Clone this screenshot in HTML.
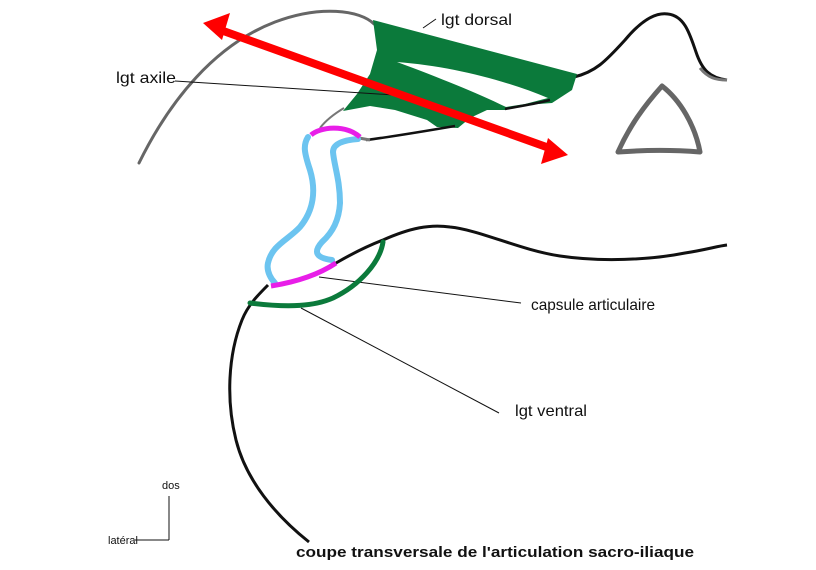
<!DOCTYPE html>
<html><head><meta charset="utf-8"><style>
html,body{margin:0;padding:0;background:#fff;}
svg{display:block;}
text{font-family:"Liberation Sans",Arial,sans-serif;fill:#111;}
</style></head><body>
<svg width="816" height="570" viewBox="0 0 816 570" xmlns="http://www.w3.org/2000/svg">
<rect width="816" height="570" fill="#fff"/>
<path d="M139,163 C170,100 215,45 275,22 C320,5 360,10 374,24" fill="none" stroke="#666" stroke-width="3" stroke-linecap="round"/>
<path d="M574,77 C595,72 605,62 625,40 C640,22 655,12 668,14 C685,16 690,35 696,52 C702,70 710,78 727,80" fill="none" stroke="#111" stroke-width="3"/>
<path d="M700,68 C708,78 716,80 727,80" fill="none" stroke="#777" stroke-width="3"/>
<path d="M662,86 C645,105 630,125 618,152 C645,150 675,150 700,152 C695,125 680,100 662,86 Z" fill="none" stroke="#666" stroke-width="5" stroke-linejoin="round"/>
<path d="M344,108 C334,114 326,120 320,128" fill="none" stroke="#777" stroke-width="2"/>
<path d="M373,20 L577,74 L572,90 L552,103 L525,105 L505,110 L487,110 L470,118 L458,128 L437,127 L427,120 L395,110 L370,106 L343,111 L357,94 L370,74 L377,50 Z" fill="#0b7a3b"/>
<path d="M397,62 C450,66 505,80 548,98 L525,104 L506,107 C475,92 440,78 397,62 Z" fill="#fff"/>
<path d="M505,109 C520,106 535,104 550,100" fill="none" stroke="#111" stroke-width="2.5"/>
<path d="M366,140 C390,137 420,132 455,126" fill="none" stroke="#111" stroke-width="2.5"/>
<path d="M359,138 L370,140" stroke="#777" stroke-width="3"/>
<line x1="175" y1="81" x2="394" y2="95" stroke="#111" stroke-width="1"/>
<line x1="436" y1="19" x2="423" y2="28" stroke="#111" stroke-width="1"/>
<line x1="319" y1="277" x2="521" y2="303" stroke="#111" stroke-width="1"/>
<line x1="301" y1="308" x2="499" y2="413" stroke="#111" stroke-width="1"/>
<line x1="215" y1="28" x2="552" y2="149" stroke="#f00" stroke-width="8"/>
<polygon points="203,23 230,13 222,40" fill="#f00"/>
<polygon points="568,155 541,164 548,138" fill="#f00"/>
<path d="M308,137 C303,145 304,152 310,170 C316,190 314,210 300,227 C288,240 272,245 268,263 C266,272 272,280 275,283" fill="none" stroke="#6cc4f0" stroke-width="6" stroke-linecap="round"/>
<path d="M358,139 C345,140 333,143 333,152 C334,165 340,180 340,203 C339,220 333,232 322,242 C313,252 316,258 332,260" fill="none" stroke="#6cc4f0" stroke-width="6" stroke-linecap="round"/>
<path d="M311,135 C320,127 345,124 360,137" fill="none" stroke="#e81ee8" stroke-width="5"/>
<path d="M271,286 C290,283 315,277 336,263" fill="none" stroke="#e81ee8" stroke-width="5"/>
<path d="M336,263 C355,252 370,245 383,240 C410,228 430,224 450,227 C480,230 520,250 560,256 C600,262 650,260 685,253 C705,250 718,246 727,245" fill="none" stroke="#111" stroke-width="3"/>
<path d="M268,285 C258,295 248,305 242,320 C228,355 226,400 236,440 C246,480 275,515 309,542" fill="none" stroke="#111" stroke-width="3"/>
<path d="M383,242 C380,262 360,285 333,298 C315,306 290,308 250,303" fill="none" stroke="#0b7a3b" stroke-width="5" stroke-linecap="round"/>
<line x1="169" y1="496" x2="169" y2="540" stroke="#111" stroke-width="1"/>
<line x1="135" y1="540" x2="169" y2="540" stroke="#111" stroke-width="1"/>
<text x="441" y="25" font-size="16" textLength="71" lengthAdjust="spacingAndGlyphs">lgt dorsal</text>
<text x="116" y="83" font-size="16" textLength="60" lengthAdjust="spacingAndGlyphs">lgt axile</text>
<text x="531" y="310" font-size="16" textLength="124" lengthAdjust="spacingAndGlyphs">capsule articulaire</text>
<text x="515" y="416" font-size="16" textLength="72" lengthAdjust="spacingAndGlyphs">lgt ventral</text>
<text x="162" y="489" font-size="11">dos</text>
<text x="108" y="544" font-size="11">latéral</text>
<text x="296" y="557" font-size="15" font-weight="bold" textLength="398" lengthAdjust="spacingAndGlyphs">coupe  transversale de l'articulation sacro-iliaque</text>
</svg>
</body></html>
